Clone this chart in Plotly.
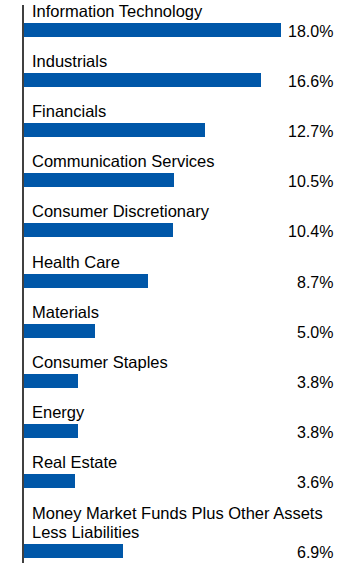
import plotly.graph_objects as go

categories = [
    "Information Technology",
    "Industrials",
    "Financials",
    "Communication Services",
    "Consumer Discretionary",
    "Health Care",
    "Materials",
    "Consumer Staples",
    "Energy",
    "Real Estate",
    "Money Market Funds Plus Other Assets<br>Less Liabilities",
]
values = [18.0, 16.6, 12.7, 10.5, 10.4, 8.7, 5.0, 3.8, 3.8, 3.6, 6.9]
value_labels = ["18.0%", "16.6%", "12.7%", "10.5%", "10.4%", "8.7%", "5.0%", "3.8%", "3.8%", "3.6%", "6.9%"]

W, H = 360, 567
ML, MT, MB = 24, 5, 4
PLOT_H = H - MT - MB
PX_PER_PCT = 14.28
ROW = 50.12
LINE_H = 19
EXTRA_LINE = 20
BAR_H = 14

# row centres in pixel units (y axis reversed, 1 unit = 1 px)
positions = []
extra = 0
for i, c in enumerate(categories):
    n_lines = c.count("<br>") + 1
    extra += EXTRA_LINE * (n_lines - 1)
    positions.append(25 + ROW * i + extra)

BAR_COLOR = "#0057A8"
FONT = "Liberation Sans, Arial, sans-serif"

fig = go.Figure(
    go.Bar(
        x=values,
        y=positions,
        orientation="h",
        width=BAR_H,
        marker=dict(color=BAR_COLOR, line=dict(width=0)),
        hoverinfo="skip",
    )
)

annotations = []
for c, p, v in zip(categories, positions, value_labels):
    lines = c.split("<br>")
    n = len(lines)
    for j, line in enumerate(lines):
        annotations.append(dict(
            x=0, y=p - 19 - LINE_H * (n - 1 - j), xref="x", yref="y",
            text=line, showarrow=False, xanchor="left", yanchor="middle", align="left",
            xshift=6, font=dict(family=FONT, size=16.5, color="#000000"),
        ))
    annotations.append(dict(
        x=(335 - ML) / (W - ML), y=p + 1.5, xref="paper", yref="y",
        text=v, showarrow=False, xanchor="right", yanchor="middle",
        font=dict(family=FONT, size=16, color="#000000"),
    ))

fig.update_layout(
    width=W, height=H,
    margin=dict(l=ML, r=0, t=MT, b=MB, pad=0),
    paper_bgcolor="white", plot_bgcolor="white",
    showlegend=False,
    bargap=0,
    annotations=annotations,
    xaxis=dict(range=[0, (W - ML) / PX_PER_PCT], visible=False, fixedrange=True),
    yaxis=dict(range=[PLOT_H, 0], showticklabels=False, showgrid=False, zeroline=False,
               showline=True, linecolor="#404040", linewidth=1.5, ticks="", fixedrange=True),
)

fig.write_html(
    "out.html",
    config={"displayModeBar": False},
    post_script="document.body.style.margin='0';document.body.style.padding='0';",
)
